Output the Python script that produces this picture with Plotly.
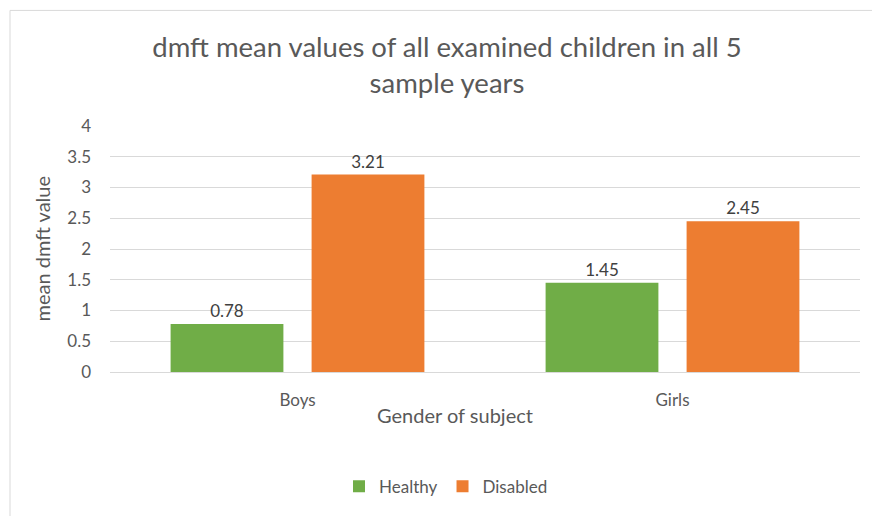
import plotly.graph_objects as go

categories = ["Boys", "Girls"]
healthy = [0.78, 1.45]
disabled = [3.21, 2.45]
series_names = ["Healthy", "Disabled"]
y_ticks = [0, 0.5, 1, 1.5, 2, 2.5, 3, 3.5, 4]
y_tick_labels = ["0", "0.5", "1", "1.5", "2", "2.5", "3", "3.5", "4"]

W, H = 872, 516
L, R, T, B = 110, 12, 126, 141
PW, PH = W - L - R, H - T - B

def px2x(px):
    return (px - L) / PW

def py2y(py):
    return 1 - (py - T) / PH

FONT = "Lato, Carlito, Calibri, sans-serif"
GREY = "#595959"

fig = go.Figure()
fig.add_trace(go.Bar(
    x=categories, y=healthy, name=series_names[0],
    marker=dict(color="#70AD47", line=dict(width=0)),
    text=[f"{v:.2f}" for v in healthy], textposition="outside",
    textfont=dict(size=17, color="#404040", family=FONT), cliponaxis=False,
))
fig.add_trace(go.Bar(
    x=categories, y=disabled, name=series_names[1],
    marker=dict(color="#ED7D31", line=dict(width=0)),
    text=[f"{v:.2f}" for v in disabled], textposition="outside",
    textfont=dict(size=17, color="#404040", family=FONT), cliponaxis=False,
))

fig.update_layout(
    width=W, height=H,
    margin=dict(l=L, r=R, t=T, b=B),
    paper_bgcolor="white", plot_bgcolor="white",
    font=dict(family=FONT, color=GREY),
    barmode="group", bargap=0.248, bargroupgap=0.2,
    showlegend=True,
    legend=dict(orientation="h", x=px2x(446), xanchor="center",
                y=py2y(491), yanchor="middle",
                font=dict(size=17, color=GREY, family=FONT),
                itemwidth=30, tracegroupgap=0),
    title=dict(text="dmft mean values of all examined children in all 5<br>sample years",
               x=447 / W, xanchor="center", xref="container",
               y=1 - 57 / H, yanchor="top", yref="container",
               font=dict(size=27.5, color=GREY, family=FONT)),
    xaxis=dict(showline=False, ticks="", tickfont=dict(size=17, color=GREY),
               showgrid=False, zeroline=False, ticklabelstandoff=16),
    yaxis=dict(range=[0, 4], tickvals=y_ticks, ticktext=y_tick_labels,
               showgrid=True, gridcolor="#D9D9D9", gridwidth=1,
               zeroline=True, zerolinecolor="#D9D9D9", zerolinewidth=1,
               showline=False, ticks="", ticklabelstandoff=18,
               tickfont=dict(size=17, color=GREY)),
)

fig.add_annotation(text="mean dmft value", textangle=-90,
                   x=px2x(28), y=py2y(250), xref="paper", yref="paper",
                   showarrow=False, font=dict(size=20, color=GREY, family=FONT))
fig.add_annotation(text="Gender of subject",
                   x=px2x(455), y=py2y(419), xref="paper", yref="paper",
                   yanchor="middle",
                   showarrow=False, font=dict(size=20, color=GREY, family=FONT))

# chart frame
fig.add_shape(type="rect", xref="paper", yref="paper",
              x0=px2x(10), x1=px2x(900), y0=py2y(560), y1=py2y(9),
              line=dict(color="#D9D9D9", width=1), fillcolor="rgba(0,0,0,0)",
              layer="below")

fig.write_html("out.html")
